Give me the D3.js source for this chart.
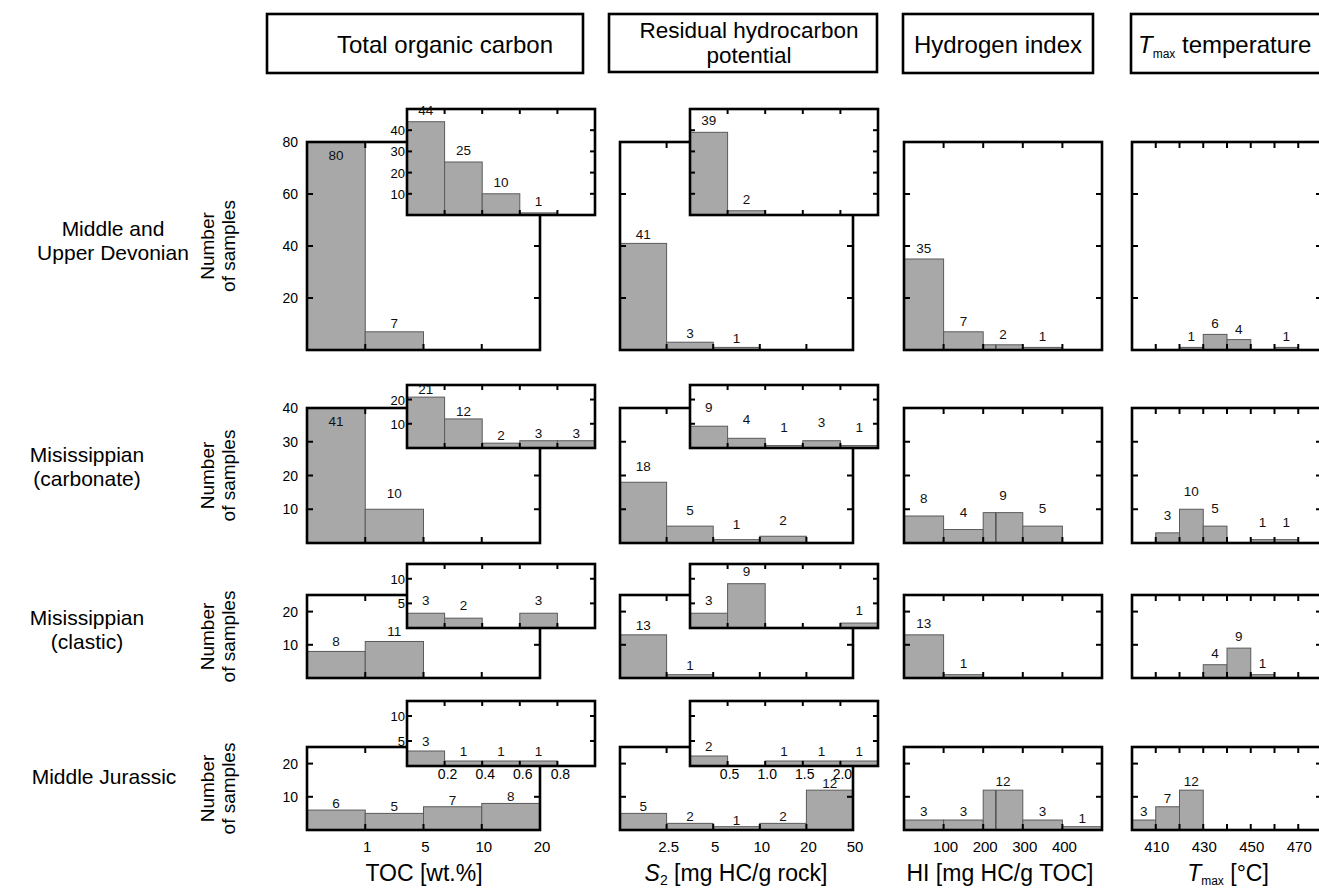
<!DOCTYPE html>
<html>
<head>
<meta charset="utf-8">
<script src="https://cdn.jsdelivr.net/npm/d3@7"></script>
<style>
  body { margin: 0; background: #fff; }
  svg { display: block; font-family: "Liberation Sans", Arial, sans-serif; }
</style>
</head>
<body>
<script>
// row names (left side)
var rowNames = [["Middle and", "Upper Devonian"], ["Misissippian", "(carbonate)"], ["Misissippian", "(clastic)"], ["Middle Jurassic"]];

// TOC main histogram: bins <1, 1-5, 5-10, 10-20
var tocTicks = ["1", "5", "10", "20"];
var tocCounts = [[80, 7, 0, 0], [41, 10, 0, 0], [8, 11, 0, 0], [6, 5, 7, 8]];
// TOC inset: bins 0-0.2 ... 0.8-1.0
var tocLowTicks = ["0.2", "0.4", "0.6", "0.8"];
var tocLowCounts = [[44, 25, 10, 1, 0], [21, 12, 2, 3, 3], [3, 2, 0, 3, 0], [3, 1, 1, 1, 0]];

// S2 main histogram: bins <2.5, 2.5-5, 5-10, 10-20, 20-50
var s2Ticks = ["2.5", "5", "10", "20", "50"];
var s2Counts = [[41, 3, 1, 0, 0], [18, 5, 1, 2, 0], [13, 1, 0, 0, 0], [5, 2, 1, 2, 12]];
// S2 inset: bins 0-0.5 ... 2.0-2.5
var s2LowTicks = ["0.5", "1.0", "1.5", "2.0"];
var s2LowCounts = [[39, 2, 0, 0, 0], [9, 4, 1, 3, 1], [3, 9, 0, 0, 1], [2, 0, 1, 1, 1]];

// HI histogram, 100 wide bins from 0 to 500
var hiEdges = [0, 100, 200, 300, 400, 500];
var hiTicks = [100, 200, 300, 400];
var hiCounts = [[35, 7, 2, 1, 0], [8, 4, 9, 5, 0], [13, 1, 0, 0, 0], [3, 3, 12, 3, 1]];
var hiSplit = 232; // stray inner edge seen in the 200-300 bar

// Tmax histogram, 10 degree bins from 400 to 480
var tmaxEdges = [400, 410, 420, 430, 440, 450, 460, 470, 480];
var tmaxTicks = [410, 430, 450, 470];
var tmaxCounts = [[0, 0, 1, 6, 4, 0, 1, 0], [0, 3, 10, 5, 0, 1, 1, 0], [0, 0, 0, 4, 9, 1, 0, 0], [3, 7, 12, 0, 0, 0, 0, 0]];

// y axes per row
var rowMax = [80, 40, 25, 25];
var rowTicks = [[20, 40, 60], [10, 20, 30], [10, 20], [10, 20]];
var rowTickLabels = [[20, 40, 60, 80], [10, 20, 30, 40], [10, 20], [10, 20]];
var insMax = [50, 26, 13, 13];
var insTicks = [[10, 20, 30, 40], [10, 20], [5, 10], [5, 10]];

// layout
var rowTop = [142, 408, 595, 747], rowBot = [350, 543, 678, 830];
var insTop = [109, 385, 564, 701], insBot = [215, 448, 628, 766];
var labelGap = [4, 11, 5, 2];
var colX = [[307, 540], [620, 853], [904, 1102], [1132, 1322]];
var insX = [[407, 595], [690, 878]];
var titleX = [113, 87, 87, 104], titleY = [241, 467, 630, 777];

var svg = d3.select("body").append("svg").attr("width", 1319).attr("height", 890);

function idx(n) { return d3.range(n + 1); }

function panel(o) {
  var x = d3.scaleLinear().domain([o.edges[0], o.edges[o.edges.length - 1]]).range([o.x0, o.x1]);
  var y = d3.scaleLinear().domain([0, o.ymax]).range([o.y1, o.y0]);
  var g = svg.append("g");
  g.append("rect")
    .attr("x", o.x0).attr("y", o.y0)
    .attr("width", o.x1 - o.x0).attr("height", o.y1 - o.y0)
    .attr("fill", "#fff");

  var bars = o.counts.map(function (c, i) { return { a: o.edges[i], b: o.edges[i + 1], c: c, i: i }; })
    .filter(function (d) { return d.c > 0; });

  g.selectAll("rect.bar").data(bars).enter().append("rect")
    .attr("class", "bar")
    .attr("x", function (d) { return x(d.a); })
    .attr("y", function (d) { return y(Math.min(d.c, o.ymax)); })
    .attr("width", function (d) { return x(d.b) - x(d.a); })
    .attr("height", function (d) { return o.y1 - y(Math.min(d.c, o.ymax)); })
    .attr("fill", "#a8a8a8")
    .attr("stroke", "#5a5a5a")
    .attr("stroke-width", 1);

  if (o.split != null) {
    bars.filter(function (d) { return d.a < o.split && d.b > o.split; }).forEach(function (d) {
      g.append("line")
        .attr("x1", x(o.split)).attr("x2", x(o.split))
        .attr("y1", y(d.c)).attr("y2", o.y1)
        .attr("stroke", "#3a3a3a").attr("stroke-width", 1.2);
    });
  }

  // inward ticks
  var inner = o.edges.slice(1, -1);
  var tl = o.tick || 6;
  inner.forEach(function (e) {
    g.append("line").attr("x1", x(e)).attr("x2", x(e)).attr("y1", o.y1).attr("y2", o.y1 - tl)
      .attr("stroke", "#000").attr("stroke-width", 2);
    g.append("line").attr("x1", x(e)).attr("x2", x(e)).attr("y1", o.y0).attr("y2", o.y0 + tl)
      .attr("stroke", "#000").attr("stroke-width", 2);
  });
  o.yticks.forEach(function (t) {
    g.append("line").attr("x1", o.x0).attr("x2", o.x0 + tl).attr("y1", y(t)).attr("y2", y(t))
      .attr("stroke", "#000").attr("stroke-width", 2);
    g.append("line").attr("x1", o.x1).attr("x2", o.x1 - tl).attr("y1", y(t)).attr("y2", y(t))
      .attr("stroke", "#000").attr("stroke-width", 2);
  });

  g.append("rect")
    .attr("x", o.x0).attr("y", o.y0)
    .attr("width", o.x1 - o.x0).attr("height", o.y1 - o.y0)
    .attr("fill", "none").attr("stroke", "#000").attr("stroke-width", 2.6);

  // count labels
  g.selectAll("text.cnt").data(bars).enter().append("text")
    .attr("class", "cnt")
    .attr("x", function (d) { return (x(d.a) + x(d.b)) / 2; })
    .attr("y", function (d) { return d.c >= o.ymax ? o.y0 + 18 : y(d.c) - o.gap; })
    .attr("text-anchor", "middle")
    .attr("font-size", 13.5)
    .attr("fill", "#111")
    .text(function (d) { return d.c; });

  // y tick labels (left)
  if (o.ylabels) {
    g.selectAll("text.yl").data(o.ylabels).enter().append("text")
      .attr("x", o.x0 - (o.ylabelPad || 9))
      .attr("y", function (d) { return y(d) + 5; })
      .attr("text-anchor", "end")
      .attr("font-size", o.ylabelSize || 14)
      .text(function (d) { return d; });
  }
  return { x: x, y: y, g: g };
}

var bottomLabelY = 852;

for (var r = 0; r < 4; r++) {
  // TOC main
  var toc = panel({ x0: colX[0][0], x1: colX[0][1], y0: rowTop[r], y1: rowBot[r], edges: idx(tocCounts[r].length),
    counts: tocCounts[r], ymax: rowMax[r], yticks: rowTicks[r], ylabels: rowTickLabels[r], gap: labelGap[r] });
  // TOC inset
  var tocIn = panel({ x0: insX[0][0], x1: insX[0][1], y0: insTop[r], y1: insBot[r], edges: idx(tocLowCounts[r].length),
    counts: tocLowCounts[r], ymax: insMax[r], yticks: insTicks[r], ylabels: insTicks[r], ylabelPad: 2, ylabelSize: 13,
    gap: r === 1 ? 3 : labelGap[r] + 3, tick: 5 });
  // S2 main
  var s2 = panel({ x0: colX[1][0], x1: colX[1][1], y0: rowTop[r], y1: rowBot[r], edges: idx(s2Counts[r].length),
    counts: s2Counts[r], ymax: rowMax[r], yticks: rowTicks[r], gap: labelGap[r] });
  var s2In = panel({ x0: insX[1][0], x1: insX[1][1], y0: insTop[r], y1: insBot[r], edges: idx(s2LowCounts[r].length),
    counts: s2LowCounts[r], ymax: insMax[r], yticks: insTicks[r], gap: labelGap[r] + 3, tick: 5 });
  // HI
  var hi = panel({ x0: colX[2][0], x1: colX[2][1], y0: rowTop[r], y1: rowBot[r], edges: hiEdges,
    counts: hiCounts[r], ymax: rowMax[r], yticks: rowTicks[r], gap: labelGap[r] + 2, split: hiSplit });
  // Tmax
  var tm = panel({ x0: colX[3][0], x1: colX[3][1], y0: rowTop[r], y1: rowBot[r], edges: tmaxEdges,
    counts: tmaxCounts[r], ymax: rowMax[r], yticks: rowTicks[r], gap: labelGap[r] + 2 });

  // row title
  var lines = rowNames[r];
  lines.forEach(function (s, i) {
    svg.append("text")
      .attr("x", titleX[r])
      .attr("y", titleY[r] + 7 + (i - (lines.length - 1) / 2) * 24)
      .attr("text-anchor", "middle")
      .attr("font-size", 21)
      .text(s);
  });

  // Number of samples
  var ny = (rowTop[r] + rowBot[r]) / 2;
  svg.append("text")
    .attr("transform", "translate(214," + ny + ") rotate(-90)")
    .attr("text-anchor", "middle").attr("font-size", 19).text("Number");
  svg.append("text")
    .attr("transform", "translate(235," + ny + ") rotate(-90)")
    .attr("text-anchor", "middle").attr("font-size", 19).text("of samples");

  if (r === 3) {
    tocTicks.forEach(function (t, i) {
      svg.append("text").attr("x", toc.x(i + 1) + 2).attr("y", bottomLabelY)
        .attr("text-anchor", "middle").attr("font-size", 15).text(t);
    });
    s2Ticks.forEach(function (t, i) {
      svg.append("text").attr("x", s2.x(i + 1) + 2).attr("y", bottomLabelY)
        .attr("text-anchor", "middle").attr("font-size", 15).text(t);
    });
    hiTicks.forEach(function (t) {
      svg.append("text").attr("x", hi.x(t) + 2).attr("y", bottomLabelY)
        .attr("text-anchor", "middle").attr("font-size", 15).text(t);
    });
    tmaxTicks.forEach(function (t) {
      svg.append("text").attr("x", tm.x(t) + 1).attr("y", bottomLabelY)
        .attr("text-anchor", "middle").attr("font-size", 15).text(t);
    });
    tocLowTicks.forEach(function (t, i) {
      svg.append("text").attr("x", tocIn.x(i + 1) + 3).attr("y", insBot[r] + 13)
        .attr("text-anchor", "middle").attr("font-size", 14).text(t);
    });
    s2LowTicks.forEach(function (t, i) {
      svg.append("text").attr("x", s2In.x(i + 1) + 2).attr("y", insBot[r] + 13)
        .attr("text-anchor", "middle").attr("font-size", 14).text(t);
    });
  }
}

// column headers
function headerBox(x0, x1, y0, y1) {
  svg.append("rect").attr("x", x0).attr("y", y0).attr("width", x1 - x0).attr("height", y1 - y0)
    .attr("fill", "#fff").attr("stroke", "#000").attr("stroke-width", 2.6);
}
headerBox(267, 583, 14, 73);
svg.append("text").attr("x", 445).attr("y", 53).attr("text-anchor", "middle").attr("font-size", 24).text("Total organic carbon");
headerBox(609, 877, 14, 72);
svg.append("text").attr("x", 749).attr("y", 38).attr("text-anchor", "middle").attr("font-size", 22.5).text("Residual hydrocarbon");
svg.append("text").attr("x", 749).attr("y", 63).attr("text-anchor", "middle").attr("font-size", 22.5).text("potential");
headerBox(903, 1093, 14, 73);
svg.append("text").attr("x", 998).attr("y", 53).attr("text-anchor", "middle").attr("font-size", 24).text("Hydrogen index");
headerBox(1131, 1324, 14, 73);
var h4 = svg.append("text").attr("x", 1138).attr("y", 53).attr("font-size", 24);
h4.append("tspan").attr("font-style", "italic").text("T");
h4.append("tspan").attr("font-size", 12).attr("dy", 5).text("max");
h4.append("tspan").attr("dy", -5).text(" temperature");

// bottom axis titles
var tY = 881;
svg.append("text").attr("x", 424).attr("y", tY).attr("text-anchor", "middle").attr("font-size", 23).text("TOC [wt.%]");
var t2 = svg.append("text").attr("x", 736).attr("y", tY).attr("text-anchor", "middle").attr("font-size", 23);
t2.append("tspan").attr("font-style", "italic").text("S");
t2.append("tspan").attr("font-size", 14).attr("dy", 4).text("2");
t2.append("tspan").attr("dy", -4).text(" [mg HC/g rock]");
svg.append("text").attr("x", 1000).attr("y", tY).attr("text-anchor", "middle").attr("font-size", 23).text("HI [mg HC/g TOC]");
var t4 = svg.append("text").attr("x", 1228).attr("y", tY).attr("text-anchor", "middle").attr("font-size", 23);
t4.append("tspan").attr("font-style", "italic").text("T");
t4.append("tspan").attr("font-size", 12).attr("dy", 4).text("max");
t4.append("tspan").attr("dy", -4).text(" [°C]");
</script>
</body>
</html>
